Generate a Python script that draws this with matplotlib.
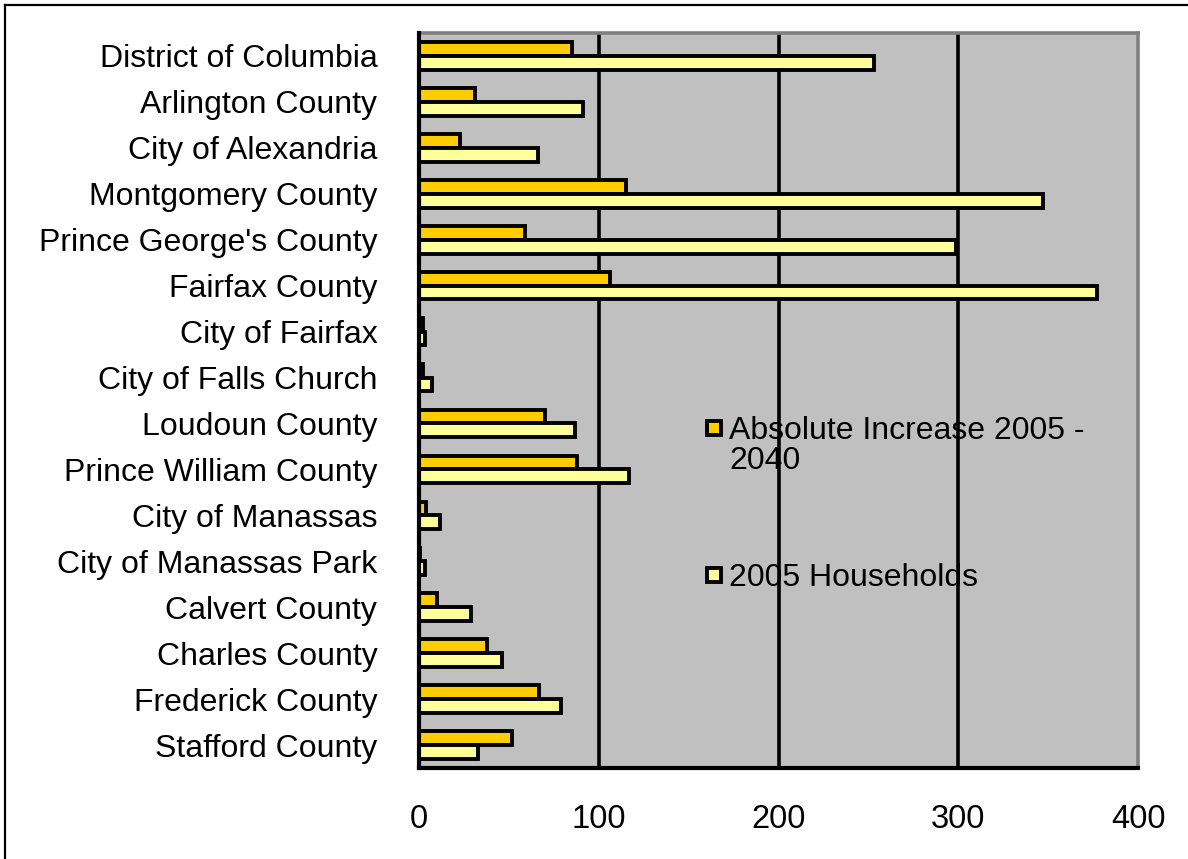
import matplotlib
matplotlib.use("Agg")
import matplotlib.pyplot as plt
from matplotlib.patches import Rectangle
from matplotlib.lines import Line2D
import numpy as np

categories = [
    "District of Columbia", "Arlington County", "City of Alexandria",
    "Montgomery County", "Prince George's County", "Fairfax County",
    "City of Fairfax", "City of Falls Church", "Loudoun County",
    "Prince William County", "City of Manassas", "City of Manassas Park",
    "Calvert County", "Charles County", "Frederick County", "Stafford County",
]
absolute_increase = [85, 31, 23, 115, 59, 106, 2.5, 2.5, 70, 88, 4, 0.8, 10, 38, 67, 52]
households_2005 = [253, 91, 66, 347, 299, 377, 3.5, 7.5, 87, 117, 11.5, 3.5, 29, 46, 79, 33]
xticks = [0, 100, 200, 300, 400]
series_labels = ["Absolute Increase 2005 -\n2040", "2005 Households"]

plt.rcParams['font.family'] = ['Liberation Sans', 'DejaVu Sans']

W, H = 1188, 859
fig = plt.figure(figsize=(W / 100, H / 100), dpi=100)
ax = fig.add_axes([419 / W, (H - 768) / H, (1138 - 419) / W, (768 - 33) / H])
ax.set_facecolor("#C0C0C0")

y = np.arange(len(categories))
bh = 0.30
orange = "#FFCC00"
yellow = "#FFFF99"
ax.barh(y - bh / 2, absolute_increase, height=bh, color=orange,
        edgecolor="black", linewidth=2.8, zorder=3)
ax.barh(y + bh / 2, households_2005, height=bh, color=yellow,
        edgecolor="black", linewidth=2.8, zorder=3)

ax.set_xlim(0, 400)
ax.set_ylim(len(categories) - 0.5, -0.5)
ax.set_xticks(xticks)
ax.set_xticklabels([str(t) for t in xticks], fontsize=23.5)
ax.set_yticks(y)
ax.set_yticklabels(categories, fontsize=23)
ax.tick_params(axis="x", length=0, pad=26)
ax.tick_params(axis="y", length=0, pad=30)

for g in xticks[1:-1]:
    ax.axvline(g, color="black", linewidth=2.6, zorder=2)

for s in ["left", "bottom"]:
    ax.spines[s].set_color("black")
    ax.spines[s].set_linewidth(3.0)
for s in ["top", "right"]:
    ax.spines[s].set_color("#808080")
    ax.spines[s].set_linewidth(2.6)
ax.spines["left"].set_zorder(4)

# legend (drawn in axes fraction coordinates)
tr = ax.transAxes
msz_x = 14 / 719
msz_y = 14 / 735
leg_x = (707 - 419) / 719
txt_x = (729 - 419) / 719
leg_y1 = 1 - (428 - 33) / 735
leg_y1c = 1 - (446 - 33) / 735
leg_y2 = 1 - (575 - 33) / 735
for yy, col in [(leg_y1, orange), (leg_y2, yellow)]:
    ax.add_patch(Rectangle((leg_x, yy - msz_y / 2), msz_x, msz_y, transform=tr,
                           facecolor=col, edgecolor="black", linewidth=2.8, zorder=5))
ax.text(txt_x, leg_y1c, series_labels[0], transform=tr, fontsize=23, va="center",
        ha="left", zorder=5, linespacing=0.98)
ax.text(txt_x, leg_y2, series_labels[1], transform=tr, fontsize=23, va="center_baseline",
        ha="left", zorder=5)

# outer border (top and left visible)
fig.add_artist(Line2D([5 / W, 1.0], [1 - 5 / H, 1 - 5 / H], transform=fig.transFigure,
                      color="black", linewidth=1.6))
fig.add_artist(Line2D([5 / W, 5 / W], [0.0, 1 - 5 / H], transform=fig.transFigure,
                      color="black", linewidth=1.6))

fig.savefig("out.png", dpi=100, facecolor="white")
